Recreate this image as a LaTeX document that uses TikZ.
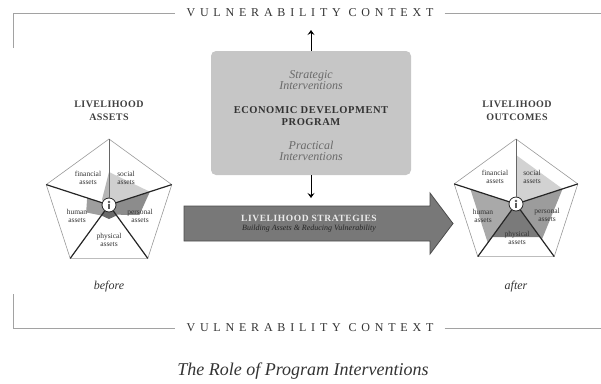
\documentclass[tikz,border=0pt]{standalone}
\usepackage{fontspec}
\setmainfont{Liberation Serif}
\usetikzlibrary{arrows.meta}

\definecolor{txtdark}{HTML}{333333}
\definecolor{txtgray}{HTML}{6A6A6A}
\definecolor{ctxgray}{HTML}{A2A2A2}
\definecolor{boxgray}{HTML}{C6C6C6}
\definecolor{arrowgray}{HTML}{787878}
% shading before
\definecolor{finlo}{HTML}{B6B6B6}
\definecolor{soclo}{HTML}{CFCFCF}
\definecolor{perlo}{HTML}{8C8C8C}
\definecolor{phylo}{HTML}{6A6A6A}
\definecolor{humlo}{HTML}{9E9E9E}
% shading after
\definecolor{sochi}{HTML}{D2D2D2}
\definecolor{perhi}{HTML}{9C9C9C}
\definecolor{phyhi}{HTML}{7A7A7A}
\definecolor{humhi}{HTML}{A9A9A9}

\begin{document}
\begin{tikzpicture}[x=1pt, y=-1pt,
	ctxline/.style={draw=ctxgray, line width=0.9pt},
	ctxtext/.style={font=\fontsize{12}{14}\selectfont\addfontfeatures{LetterSpace=40}, text=txtdark, inner xsep=11pt, inner ysep=0pt},
	progbox/.style={rectangle, rounded corners=5pt, fill=boxgray, minimum width=200pt, minimum height=124pt},
	interv/.style={font=\fontsize{12}{11}\selectfont\itshape, text=txtgray, align=center, inner sep=0pt},
	progname/.style={font=\fontsize{10.5}{12}\selectfont\bfseries\addfontfeatures{LetterSpace=5}, text=txtdark, align=center, inner sep=0pt},
	progarrow/.style={line width=1pt, -{Stealth[length=5pt, width=7pt, inset=2pt]}},
	bigarrow/.style={fill=arrowgray, draw=black!70, line width=0.8pt},
	stratname/.style={font=\fontsize{9.5}{11}\selectfont\bfseries\addfontfeatures{LetterSpace=6}, text=black!8, inner sep=0pt},
	stratsub/.style={font=\fontsize{8}{9}\selectfont\itshape, text=black!85, inner sep=0pt},
	hdr/.style={font=\fontsize{10}{12.5}\selectfont\bfseries\addfontfeatures{LetterSpace=4}, text=black!75, align=center, inner sep=0pt},
	stage/.style={font=\fontsize{12}{14}\selectfont\itshape, text=txtdark, inner sep=0pt},
	rim/.style={draw=black!40, line width=0.6pt},
	spoke/.style={draw=black!85, line width=1.2pt},
	spoketop/.style={draw=black!60, line width=0.9pt},
	hub/.style={circle, draw=black!85, line width=0.8pt, fill=white, minimum size=14pt, inner sep=0pt},
	icon/.style={black!65},
	sector/.style={font=\fontsize{7.5}{8.5}\selectfont, text=txtdark, align=center, inner sep=0pt},
	caption/.style={font=\fontsize{18}{20}\selectfont\itshape, text=txtdark, inner sep=0pt}]

	\useasboundingbox (0,0) rectangle (601,383);

	% vulnerability context, top and bottom
	\node[ctxtext] (ctxtop) at (310,13) {VULNERABILITY CONTEXT};
	\node[ctxtext] (ctxbot) at (310,328) {VULNERABILITY CONTEXT};
	\coordinate (ctxtl) at (13,13);
	\coordinate (ctxtlend) at (13,48);
	\coordinate (ctxtr) at (601,13);
	\coordinate (ctxbl) at (13,328);
	\coordinate (ctxblend) at (13,294);
	\coordinate (ctxbr) at (601,328);
	\draw[ctxline]	(ctxtlend) -- (ctxtl) -- (ctxtop.west)
					(ctxtop.east) -- (ctxtr);
	\draw[ctxline]	(ctxblend) -- (ctxbl) -- (ctxbot.west)
					(ctxbot.east) -- (ctxbr);

	% economic development program
	\node[progbox] (prog) at (311,113) {};
	\node[interv] (stratint) at (311,80.5) {Strategic\\Interventions};
	\node[progname] (econprog) at (311,116) {ECONOMIC DEVELOPMENT\\PROGRAM};
	\node[interv] (practint) at (311,151) {Practical\\Interventions};
	\coordinate (uptip) at (311,30);
	\coordinate (downtip) at (311,198);
	\draw[progarrow] (prog.north) -- (uptip);
	\draw[progarrow] (prog.south) -- (downtip);

	% livelihood strategies arrow
	\draw[bigarrow]	(184,206) -- (430,206) -- (430,193) -- (453,223.5)
					-- (430,254) -- (430,241) -- (184,241) -- cycle;
	\node[stratname] (lstrat) at (309,218) {LIVELIHOOD STRATEGIES};
	\node[stratsub] (lstratsub) at (309,229) {Building Assets \& Reducing Vulnerability};

	% headers and stages
	\node[hdr] (assetshdr) at (109,110.5) {LIVELIHOOD\\ASSETS};
	\node[hdr] (outcomeshdr) at (517,110.5) {LIVELIHOOD\\OUTCOMES};
	\node[stage] (before) at (109,287) {before};
	\node[stage] (after) at (516,287) {after};

	% before pentagon
	\begin{scope}[shift={(109pt,-205pt)}, y=1pt]
		\fill[finlo] (0,0) -- (90:33) -- (140:9) -- (162:6) -- cycle;
		\fill[soclo] (0,0) -- (90:33) -- (18:43) -- cycle;
		\fill[perlo] (0,0) -- (18:43) -- (-18:32) -- (-54:12) -- cycle;
		\fill[phylo] (0,0) -- (-54:13) -- (-90:14) -- (-126:13) -- cycle;
		\fill[humlo] (0,0) -- (-126:13) -- (-162:24) -- (162:23) -- cycle;
		\coordinate (bv1) at (90:66);
		\coordinate (bv2) at (18:66);
		\coordinate (bv3) at (-54:66);
		\coordinate (bv4) at (-126:66);
		\coordinate (bv5) at (162:66);
		\draw[rim] (bv1) -- (bv2) -- (bv3) -- (bv4) -- (bv5) -- cycle;
		\node[hub] (bhub) at (0,0) {};
		\draw[spoketop] (bhub) -- (bv1);
		\draw[spoke]	(bhub) -- (bv2)
						(bhub) -- (bv3)
						(bhub) -- (bv4)
						(bhub) -- (bv5);
		\fill[icon] (0,3) circle (1.3);
		\draw[icon, line width=1.1pt] (0,1.3) -- (0,-4);
		\node[sector] (bfin) at (-21,27) {financial\\assets};
		\node[sector] (bsoc) at (17,27) {social\\assets};
		\node[sector] (bhum) at (-32,-11) {human\\assets};
		\node[sector] (bper) at (31,-11) {personal\\assets};
		\node[sector] (bphy) at (0,-35) {physical\\assets};
	\end{scope}

	% after pentagon
	\begin{scope}[shift={(516pt,-204pt)}, y=1pt]
		\fill[sochi] (0,0) -- (90:49) -- (18:49) -- cycle;
		\fill[perhi] (0,0) -- (18:49) -- (-54:44) -- cycle;
		\fill[phyhi] (0,0) -- (-54:41) -- (-126:41) -- cycle;
		\fill[humhi] (0,0) -- (-126:48) -- (162:48) -- cycle;
		\coordinate (av1) at (90:65);
		\coordinate (av2) at (18:65);
		\coordinate (av3) at (-54:65);
		\coordinate (av4) at (-126:65);
		\coordinate (av5) at (162:65);
		\draw[rim] (av1) -- (av2) -- (av3) -- (av4) -- (av5) -- cycle;
		\node[hub] (ahub) at (0,0) {};
		\draw[spoketop] (ahub) -- (av1);
		\draw[spoke]	(ahub) -- (av2)
						(ahub) -- (av3)
						(ahub) -- (av4)
						(ahub) -- (av5);
		\fill[icon] (0,3) circle (1.3);
		\draw[icon, line width=1.1pt] (0,1.3) -- (0,-4);
		\node[sector] (afin) at (-21,27) {financial\\assets};
		\node[sector] (asoc) at (16,27) {social\\assets};
		\node[sector] (ahum) at (-33,-12) {human\\assets};
		\node[sector] (aper) at (31,-11) {personal\\assets};
		\node[sector] (aphy) at (1,-34) {physical\\assets};
	\end{scope}

	% caption
	\node[caption, anchor=base] (title) at (303,375) {The Role of Program Interventions};
\end{tikzpicture}
\end{document}
